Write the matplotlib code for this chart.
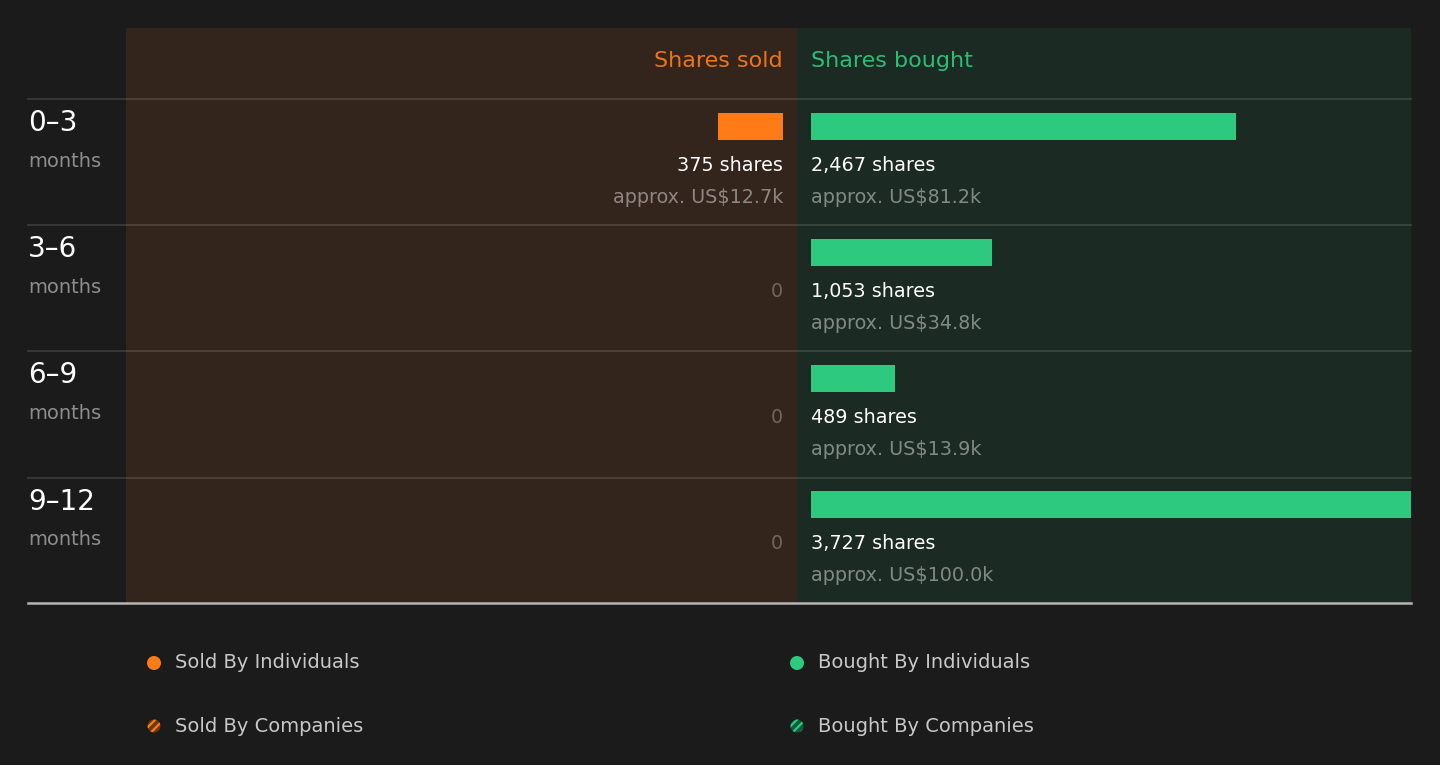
"""Insider trading volume chart."""

import matplotlib.pyplot as plt
from matplotlib.patches import Rectangle, Circle

# data
periods = ['0–3', '3–6', '6–9', '9–12']
sold_shares = [375, 0, 0, 0]
sold_value_k = [12.7, 0, 0, 0]
bought_shares = [2467, 1053, 489, 3727]
bought_value_k = [81.2, 34.8, 13.9, 100.0]
legend_labels = ['Sold By Individuals', 'Sold By Companies',
                 'Bought By Individuals', 'Bought By Companies']

W, H = 1440, 765
BG = '#1b1b1b'
ORANGE = '#ff7b17'
GREEN = '#2dc97e'
SOLD_BG = '#33241c'
BOUGHT_BG = '#1b2a23'
PX_PER_SHARE = 0.1722

plt.rcParams['hatch.linewidth'] = 1.6

fig = plt.figure(figsize=(W / 100, H / 100), dpi=100)
fig.patch.set_facecolor(BG)

# background axes in pixel units
bg = fig.add_axes([0, 0, 1, 1])
bg.set_xlim(0, W)
bg.set_ylim(H, 0)
bg.axis('off')

bg.add_patch(Rectangle((126, 28), 797 - 126, 603 - 28, color=SOLD_BG, lw=0))
bg.add_patch(Rectangle((797, 28), 1411 - 797, 603 - 28, color=BOUGHT_BG, lw=0))

row_top = 99
row_h = 126.2
for i in range(len(periods)):
    y = row_top + i * row_h
    bg.plot([28, 1411], [y, y], color='white', alpha=0.12, lw=1.5)
    bg.text(28, y + 24, periods[i], color='white', fontsize=20,
            va='center', ha='left')
    bg.text(28, y + 62, 'months', color='white', alpha=0.5, fontsize=14,
            va='center', ha='left')
bg.plot([28, 1411], [603, 603], color='#b5b5b5', lw=1.8)

bg.text(783, 61, 'Shares sold', color=ORANGE, fontsize=16,
        ha='right', va='center', alpha=0.92)
bg.text(811, 61, 'Shares bought', color=GREEN, fontsize=16,
        ha='left', va='center', alpha=0.92)

# legend
leg_pos = [(154, 663), (154, 726), (797, 663), (797, 726)]
leg_cols = [ORANGE, ORANGE, GREEN, GREEN]
dark_cols = ['#6e3814', '#6e3814', '#145a3a', '#145a3a']
for k, (x, y) in enumerate(leg_pos):
    if k % 2 == 0:
        bg.add_patch(Circle((x, y), 7, color=leg_cols[k], lw=0))
    else:
        bg.add_patch(Circle((x, y), 6.5, facecolor=dark_cols[k],
                            edgecolor=leg_cols[k], hatch='////', lw=0))
    bg.text(x + 21, y, legend_labels[k], color='#c8c8c8', fontsize=14,
            ha='left', va='center')


def bar_axes(x0, x1):
    ax = fig.add_axes([x0 / W, 1 - 603 / H, (x1 - x0) / W, (603 - 99) / H])
    ax.set_xlim(0, (x1 - x0) / PX_PER_SHARE)
    ax.set_ylim(len(periods), 0)
    ax.axis('off')
    ax.patch.set_alpha(0)
    return ax


ax_s = bar_axes(126, 783)
ax_s.invert_xaxis()
ax_b = bar_axes(811, 1411)

bar_c = 0.218
bar_h = 0.214
for i in range(len(periods)):
    if sold_shares[i] > 0:
        ax_s.barh(i + bar_c, sold_shares[i], height=bar_h, color=ORANGE)
        ax_s.text(0, i + 0.524, f'{sold_shares[i]:,} shares', color='white',
                  fontsize=13.8, ha='right', va='center')
        ax_s.text(0, i + 0.778, f'approx. US${sold_value_k[i]:.1f}k',
                  color='white', alpha=0.45, fontsize=13.8,
                  ha='right', va='center')
    else:
        ax_s.text(0, i + 0.524, '0', color='white', alpha=0.3,
                  fontsize=13.8, ha='right', va='center')

    ax_b.barh(i + bar_c, bought_shares[i], height=bar_h, color=GREEN)
    ax_b.text(0, i + 0.524, f'{bought_shares[i]:,} shares', color='white',
              fontsize=13.8, ha='left', va='center')
    ax_b.text(0, i + 0.778, f'approx. US${bought_value_k[i]:.1f}k',
              color='white', alpha=0.45, fontsize=13.8,
              ha='left', va='center')

fig.savefig('out.png', dpi=100, facecolor=BG)
